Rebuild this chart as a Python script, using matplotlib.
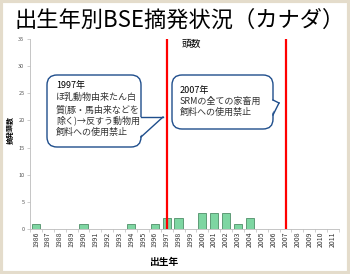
import matplotlib
matplotlib.use('Agg')
import matplotlib.pyplot as plt
import numpy as np
from matplotlib.patches import FancyBboxPatch, Polygon, Rectangle

plt.rcParams['font.family'] = ['Noto Sans CJK JP', 'DejaVu Sans']

# datos
years = [str(y) for y in range(1986, 2012)]
counts = [1, 0, 0, 0, 1, 0, 0, 0, 1, 0, 1, 2, 2, 0, 3, 3, 3, 1, 2, 0, 0, 0, 0, 0, 0, 0]
ban_years = ['1997', '2007']

title = '出生年別BSE摘発状況（カナダ）'
note1_head = '1997年'
note1_body = 'ほ乳動物由来たん白\n質(豚・馬由来などを\n除く)→反すう動物用\n飼料への使用禁止'
note2_head = '2007年'
note2_body = 'SRMの全ての家畜用\n飼料への使用禁止'

fig = plt.figure(figsize=(3.5, 2.74), dpi=100)
fig.patch.set_facecolor('white')

# eje principal
ax = fig.add_axes([30 / 350, 45 / 274, 309 / 350, 190 / 274])
x = np.arange(len(years))
ax.bar(x, counts, width=0.7, color='#7ed6a2', edgecolor='#4f8f68', linewidth=0.6, zorder=2)
for y in ban_years:
    ax.axvline(years.index(y), color='#ff0000', linewidth=1.6, zorder=3)

ax.set_xlim(-0.5, len(years) - 0.5)
ax.set_ylim(0, 35)
ax.set_yticks(range(0, 36, 5))
ax.set_xticks(x)
ax.set_xticklabels(years, rotation=90, fontsize=5, color='#333333')
ax.set_xticks(np.arange(-0.5, len(years), 1), minor=True)
ax.tick_params(axis='x', which='major', length=0, pad=2)
ax.tick_params(axis='x', which='minor', length=2, color='#bbbbbb', width=0.5)
ax.tick_params(axis='y', labelsize=4, colors='#555555', length=2, width=0.5, pad=2)
ax.tick_params(axis='y', color='#bbbbbb')
for s in ['top', 'right']:
    ax.spines[s].set_visible(False)
ax.spines['left'].set_color('#bbbbbb')
ax.spines['bottom'].set_color('#bbbbbb')
ax.spines['left'].set_linewidth(0.6)
ax.spines['bottom'].set_linewidth(0.6)

# capa superior en pixeles
ov = fig.add_axes([0, 0, 1, 1], zorder=5)
ov.set_xlim(0, 350)
ov.set_ylim(274, 0)
ov.axis('off')

ov.add_patch(Rectangle((1, 1), 348, 272, fill=False, edgecolor='#e4dccb', linewidth=3))

ov.text(180, 20, title, fontsize=16, ha='center', va='center', color='black')
ov.text(191, 44, '頭数', fontsize=7, ha='center', va='center', color='black')
ov.text(10, 130, '摘発頭数', fontsize=5, rotation=90, ha='center', va='center', fontweight='bold')
ov.text(164, 262, '出生年', fontsize=7, ha='center', va='center', fontweight='bold')

blue = '#1f4e8c'

def callout(x0, y0, w, h, base_top, base_bot, tip):
    box = FancyBboxPatch((x0, y0), w, h, boxstyle='round,pad=0,rounding_size=10',
                         facecolor='white', edgecolor=blue, linewidth=1.0)
    ov.add_patch(box)
    xr = x0 + w
    ov.add_patch(Polygon([(xr - 2, base_top), tip, (xr - 2, base_bot)], closed=True,
                         facecolor='white', edgecolor='none'))
    ov.plot([xr, tip[0]], [base_top, tip[1]], color=blue, linewidth=1.0)
    ov.plot([tip[0], xr], [tip[1], base_bot], color=blue, linewidth=1.0)

callout(47, 75, 94, 72, 117, 137, (163, 117))
callout(172, 75, 101, 54, 100, 115, (279, 103))

ov.text(56, 81, note1_head, fontsize=6.5, va='top', ha='left', color='black')
ov.text(56, 93, note1_body, fontsize=6.5, va='top', ha='left', color='#333333', linespacing=1.25)
ov.text(180, 86, note2_head, fontsize=6.5, va='top', ha='left', color='black')
ov.text(180, 97, note2_body, fontsize=6.5, va='top', ha='left', color='#333333', linespacing=1.2)

plt.savefig('out.png', dpi=100)
